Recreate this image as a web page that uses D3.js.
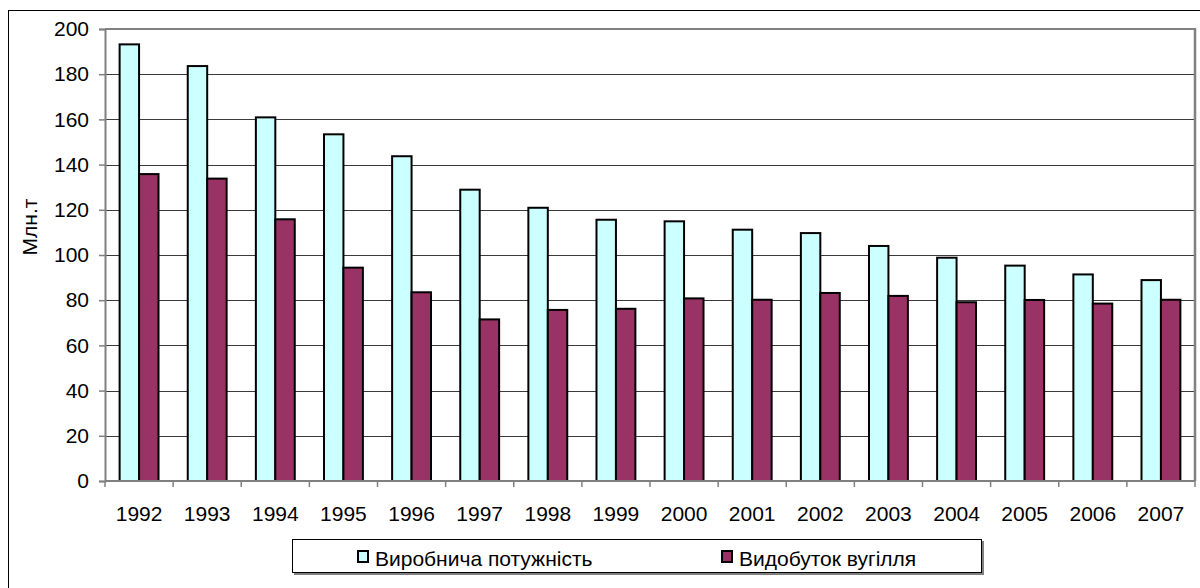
<!DOCTYPE html>
<html><head><meta charset="utf-8">
<script src="https://cdn.jsdelivr.net/npm/d3@7"></script>
<style>
html,body{margin:0;padding:0;background:#fff;}
svg{display:block;font-family:"Liberation Sans",Arial,sans-serif;}
</style></head>
<body><svg id="c" width="1200" height="588"></svg>
<script>
const years = ["1992","1993","1994","1995","1996","1997","1998","1999","2000","2001","2002","2003","2004","2005","2006","2007"];
const capacity = [193.2,183.6,160.9,153.4,143.7,128.9,120.9,115.6,114.9,111.2,109.7,104.0,98.8,95.3,91.4,88.9];
const output = [135.8,133.8,115.8,94.4,83.5,71.5,75.7,76.2,80.8,80.2,83.2,81.9,79.1,80.1,78.5,80.2];
const seriesNames = ["Виробнича потужність","Видобуток вугілля"];
const seriesColors = ["#CCFFFF","#993366"];
const yTicks = [0,20,40,60,80,100,120,140,160,180,200];
const yTitle = "Млн.т";

const svg = d3.select("#c");
const L = 105, R = 1195, T = 29, B = 481;
const fs = 21;

// outer chart frame
svg.append("rect").attr("x",8.5).attr("y",10.5).attr("width",1200).attr("height",600)
  .attr("fill","none").attr("stroke","#000").attr("stroke-width",1);

const x0 = d3.scaleBand().domain(years).range([L,R]).paddingInner(0).paddingOuter(0);
const gapFrac = 0.2146;
const x1 = d3.scaleBand().domain([0,1]).range([x0.bandwidth()*gapFrac, x0.bandwidth()*(1-gapFrac)]).padding(0);
const y = d3.scaleLinear().domain([0,200]).range([B,T]);

// gridlines
svg.append("g").selectAll("line").data(yTicks.filter(d=>d>0)).join("line")
  .attr("x1",L).attr("x2",R).attr("y1",d=>Math.round(y(d))+0.5).attr("y2",d=>Math.round(y(d))+0.5)
  .attr("stroke","#3a3a3a").attr("stroke-width",1);

// plot border (gray)
svg.append("line").attr("x1",L).attr("x2",R).attr("y1",T).attr("y2",T).attr("stroke","#808080").attr("stroke-width",2);
svg.append("line").attr("x1",R).attr("x2",R).attr("y1",T-1).attr("y2",B).attr("stroke","#808080").attr("stroke-width",2.5);

// bars
const series = [capacity, output];
series.forEach((vals, si) => {
  svg.append("g").selectAll("rect").data(vals).join("rect")
    .attr("x",(d,i)=>x0(years[i]) + x1(si))
    .attr("y",d=>y(d))
    .attr("width",x1.bandwidth())
    .attr("height",d=>B - y(d))
    .attr("fill",seriesColors[si])
    .attr("stroke","#000").attr("stroke-width",2);
});

// y axis
const yAxis = d3.axisLeft(y).tickValues(yTicks).tickSize(6).tickPadding(10).tickFormat(d3.format("d"));
const gy = svg.append("g").attr("transform",`translate(${L},0)`).call(yAxis);
gy.select(".domain").attr("stroke","#808080").attr("stroke-width",2);
gy.selectAll(".tick line").attr("stroke","#808080").attr("stroke-width",1.5);
gy.selectAll("text").attr("font-size",fs).attr("fill","#000").attr("font-family","Liberation Sans, Arial, sans-serif");

// x axis with ticks at band boundaries
const gx = svg.append("g").attr("transform",`translate(0,${B})`);
gx.append("line").attr("x1",L).attr("x2",R).attr("y1",0).attr("y2",0).attr("stroke","#808080").attr("stroke-width",2);
const bounds = years.map(d=>x0(d)).concat([R]);
gx.selectAll("line.tk").data(bounds).join("line").attr("class","tk")
  .attr("x1",d=>d).attr("x2",d=>d).attr("y1",0).attr("y2",6).attr("stroke","#808080").attr("stroke-width",1.5);
gx.selectAll("text").data(years).join("text")
  .attr("x",d=>x0(d)+x0.bandwidth()/2).attr("y",40)
  .attr("text-anchor","middle").attr("font-size",fs).attr("fill","#000").text(d=>d);

// y title
svg.append("text").attr("transform","translate(37,227) rotate(-90)")
  .attr("text-anchor","middle").attr("font-size",fs).attr("fill","#000").text(yTitle);

// legend
const lg = svg.append("g");
lg.append("rect").attr("x",294).attr("y",541).attr("width",690).attr("height",34).attr("fill","#808080");
lg.append("rect").attr("x",292.5).attr("y",539.5).attr("width",689).attr("height",33).attr("fill","#fff").attr("stroke","#000").attr("stroke-width",1);
const legX = [358, 722];
seriesNames.forEach((n,i)=>{
  lg.append("rect").attr("x",legX[i]).attr("y",551).attr("width",10).attr("height",11)
    .attr("fill",seriesColors[i]).attr("stroke","#000").attr("stroke-width",2);
  lg.append("text").attr("x",legX[i]+17).attr("y",566).attr("font-size",fs).attr("fill","#000").text(n);
});
</script></body></html>
